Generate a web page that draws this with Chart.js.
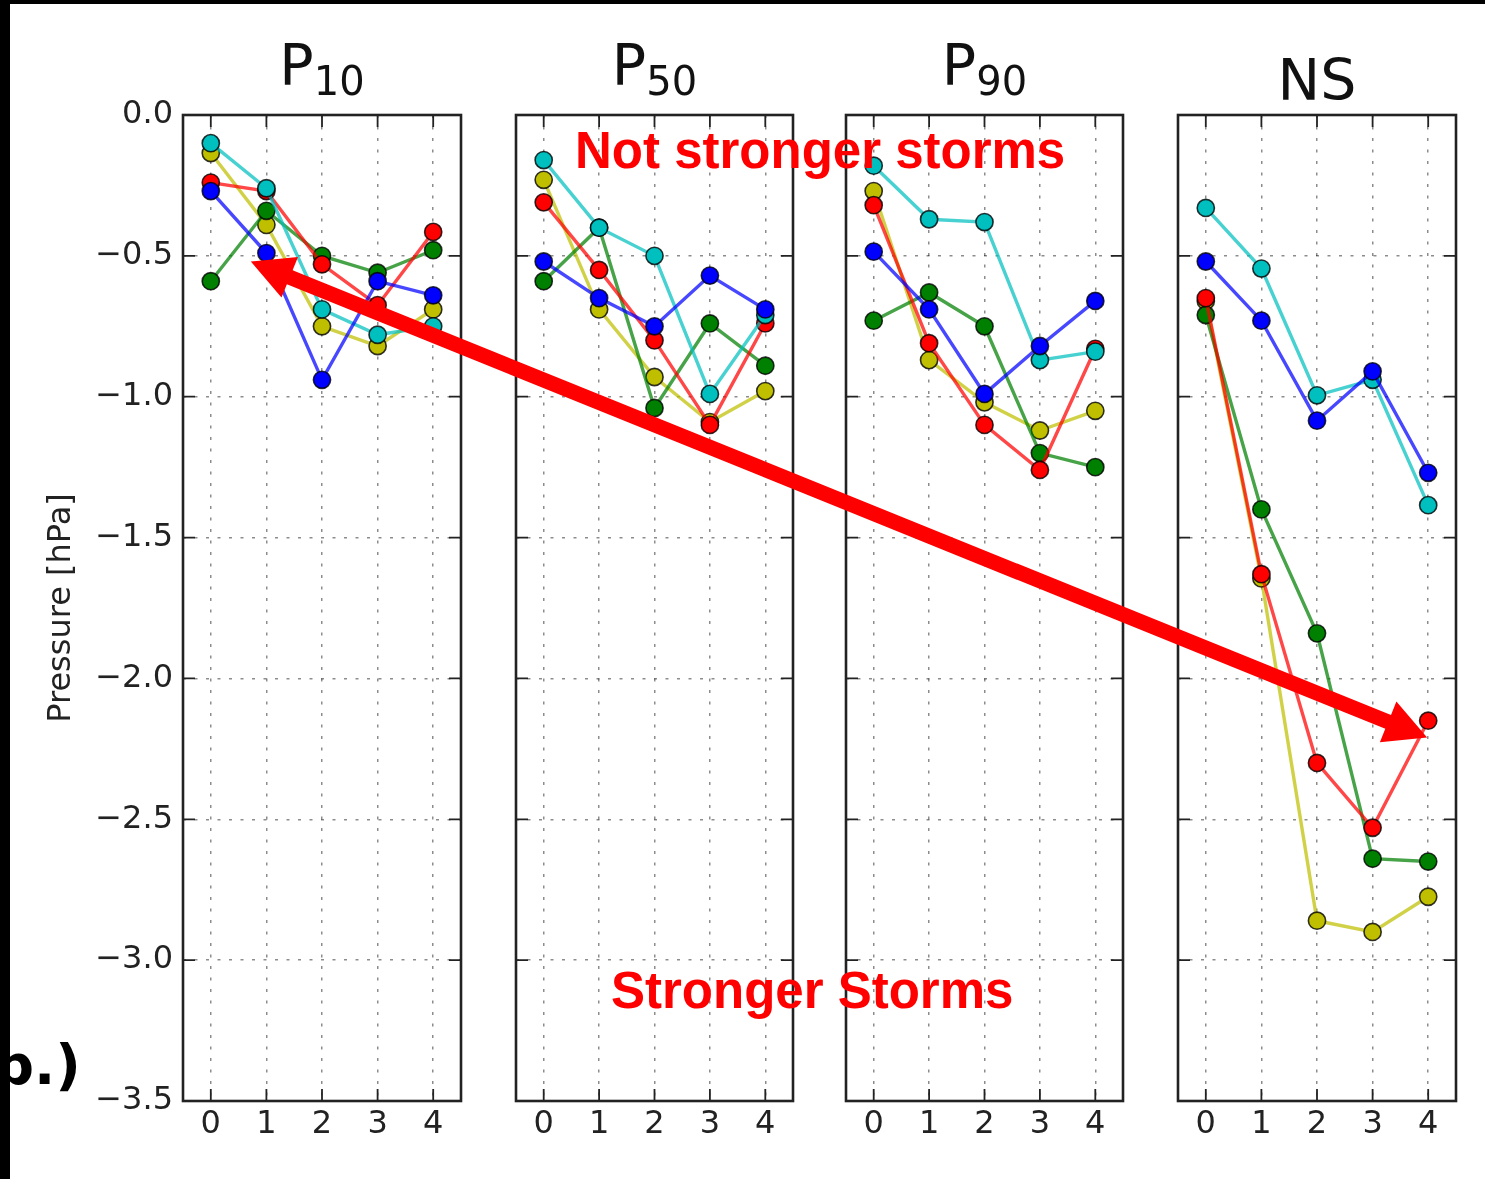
<!DOCTYPE html>
<html>
<head>
<meta charset="utf-8">
<title>Pressure panels</title>
<script src="https://cdn.jsdelivr.net/npm/chart.js@4.4.0/dist/chart.umd.min.js"></script>
<style>
  body { margin: 0; background: #fff; }
  #wrap { position: relative; width: 1485px; height: 1179px; overflow: hidden; background: #fff; }
  #wrap canvas { position: absolute; top: 0; }
  .ttl { position: absolute; width: 240px; text-align: center; font-family: "DejaVu Sans"; font-size: 57px;
         line-height: 1; color: #111; white-space: nowrap; }
  .ttl sub { font-size: 40px; vertical-align: -10px; }
  .note { position: absolute; font-family: "Liberation Sans", Arial, sans-serif; font-weight: bold;
          font-size: 51px; line-height: 1; color: #ff0000; white-space: nowrap; }
  .tag { position: absolute; left: -6px; top: 1037px; font-family: "DejaVu Sans"; font-weight: bold;
         font-size: 56px; line-height: 1; color: #000; }
  .blk { position: absolute; background: #000; }
  #arrow { position: absolute; left: 0; top: 0; }
</style>
</head>
<body>
<div id="wrap">
  <div class="note" style="left:575px; top:125px;">Not stronger storms</div>
  <div class="note" style="left:611px; top:965px;">Stronger Storms</div>
  <div class="tag">b.)</div>
  <svg id="arrow" width="1485" height="1179"></svg>
  <div class="blk" style="left:0; top:0; width:1485px; height:4px;"></div>
  <div class="blk" style="left:0; top:0; width:10px; height:1179px;"></div>
</div>
<script>
// tick labels
const xTicks = [0, 1, 2, 3, 4];
const yTickVals = [0, -0.5, -1, -1.5, -2, -2.5, -3, -3.5];
const yTickLabels = ['0.0', '\u22120.5', '\u22121.0', '\u22121.5', '\u22122.0', '\u22122.5', '\u22123.0', '\u22123.5'];
const panelTitles = [['P', '10'], ['P', '50'], ['P', '90'], ['NS', '']];
const yTitle = 'Pressure [hPa]';

// P10
const p10Blue   = [-0.27, -0.49, -0.94, -0.59, -0.64];
const p10Cyan   = [-0.10, -0.26, -0.69, -0.78, -0.75];
const p10Red    = [-0.24, -0.27, -0.53, -0.675, -0.415];
const p10Green  = [-0.59, -0.34, -0.50, -0.56, -0.48];
const p10Yellow = [-0.135, -0.39, -0.75, -0.82, -0.69];

// P50
const p50Blue   = [-0.52, -0.65, -0.75, -0.57, -0.69];
const p50Cyan   = [-0.16, -0.40, -0.50, -0.99, -0.71];
const p50Red    = [-0.31, -0.55, -0.80, -1.10, -0.74];
const p50Green  = [-0.59, -0.40, -1.04, -0.74, -0.89];
const p50Yellow = [-0.23, -0.69, -0.93, -1.09, -0.98];

// P90
const p90Blue   = [-0.485, -0.69, -0.99, -0.82, -0.66];
const p90Cyan   = [-0.18, -0.37, -0.38, -0.87, -0.84];
const p90Red    = [-0.32, -0.81, -1.10, -1.26, -0.83];
const p90Green  = [-0.73, -0.63, -0.75, -1.20, -1.25];
const p90Yellow = [-0.27, -0.87, -1.02, -1.12, -1.05];

// NS
const nsBlue   = [-0.52, -0.73, -1.085, -0.91, -1.27];
const nsCyan   = [-0.33, -0.545, -0.995, -0.94, -1.385];
const nsRed    = [-0.65, -1.63, -2.30, -2.53, -2.15];
const nsGreen  = [-0.71, -1.40, -1.84, -2.64, -2.65];
const nsYellow = [-0.66, -1.645, -2.86, -2.90, -2.775];

// first one is drawn on top
const markColors = ['#0000ff', '#00bfbf', '#ff0000', '#008000', '#bfbf00'];
const lineColors = ['rgba(0,0,255,0.72)', 'rgba(0,191,191,0.72)', 'rgba(255,0,0,0.72)', 'rgba(0,128,0,0.72)', 'rgba(191,191,0,0.72)'];

const panels = [
  { left: 183,  right: 461,  yLabels: true,  series: [p10Blue, p10Cyan, p10Red, p10Green, p10Yellow] },
  { left: 516,  right: 793,  yLabels: false, series: [p50Blue, p50Cyan, p50Red, p50Green, p50Yellow] },
  { left: 846,  right: 1123, yLabels: false, series: [p90Blue, p90Cyan, p90Red, p90Green, p90Yellow] },
  { left: 1178, right: 1456, yLabels: false, series: [nsBlue, nsCyan, nsRed, nsGreen, nsYellow] }
];

// arrow ends in data units of the first and last panel
const arrowFrom = { panel: 0, x: 0.72, y: -0.52 };
const arrowTo   = { panel: 3, x: 3.98, y: -2.21 };

Chart.defaults.font.family = "'DejaVu Sans'";
Chart.defaults.color = '#222';

const gridColor = 'rgba(0,0,0,0.45)';

// box round the axes with ticks pointing inward, like matplotlib
const framePlugin = {
  id: 'frame',
  afterDraw(chart) {
    const { ctx, chartArea: a, scales: { x, y } } = chart;
    ctx.save();
    ctx.strokeStyle = '#222';
    ctx.lineWidth = 1.8;
    ctx.beginPath();
    xTicks.forEach(v => {
      const px = x.getPixelForValue(v);
      ctx.moveTo(px, a.bottom); ctx.lineTo(px, a.bottom - 12);
      ctx.moveTo(px, a.top); ctx.lineTo(px, a.top + 12);
    });
    yTickVals.forEach(v => {
      const py = y.getPixelForValue(v);
      ctx.moveTo(a.left, py); ctx.lineTo(a.left + 12, py);
      ctx.moveTo(a.right, py); ctx.lineTo(a.right - 12, py);
    });
    ctx.stroke();
    ctx.lineWidth = 2.6;
    ctx.strokeRect(a.left, a.top, a.right - a.left, a.bottom - a.top);
    ctx.restore();
  }
};

const wrap = document.getElementById('wrap');
const charts = [];
const offsets = [];

panels.forEach((p, i) => {
  const yW = p.yLabels ? 183 : 0;
  const cLeft = p.yLabels ? 0 : p.left - 15;
  const padL = p.left - yW - cLeft;
  const cWidth = p.right + 15 - cLeft;

  const canvas = document.createElement('canvas');
  canvas.width = cWidth;
  canvas.height = 1179;
  canvas.style.left = cLeft + 'px';
  wrap.insertBefore(canvas, wrap.firstChild);
  offsets.push(cLeft);

  const datasets = p.series.map((vals, j) => ({
    data: xTicks.map((x, n) => ({ x: x, y: vals[n] })),
    borderColor: lineColors[j],
    borderWidth: 3.4,
    pointRadius: 8.6,
    pointBackgroundColor: markColors[j],
    pointBorderColor: 'rgba(0,0,0,0.8)',
    pointBorderWidth: 1.6,
    tension: 0,
    fill: false
  }));

  charts.push(new Chart(canvas, {
    type: 'line',
    data: { datasets: datasets },
    options: {
      responsive: false,
      animation: false,
      devicePixelRatio: 1,
      events: [],
      layout: { padding: { left: padL, right: 15, top: 115, bottom: 1179 - 1101 - 50 } },
      plugins: { legend: { display: false }, tooltip: { enabled: false } },
      scales: {
        x: {
          type: 'linear', min: -0.5, max: 4.5,
          afterBuildTicks: s => { s.ticks = xTicks.map(v => ({ value: v })); },
          afterFit: s => { s.height = 50; },
          ticks: { font: { size: 32 }, color: '#222', padding: 4, callback: v => String(v) },
          grid: { color: gridColor, lineWidth: 1.5, drawTicks: false },
          border: { display: false, dash: [3, 8.5] }
        },
        y: {
          type: 'linear', min: -3.5, max: 0,
          afterBuildTicks: s => { s.ticks = yTickVals.map(v => ({ value: v })); },
          afterFit: s => { s.width = yW; },
          ticks: { display: p.yLabels, font: { size: 32 }, color: '#222', padding: 10,
                   callback: v => yTickLabels[yTickVals.indexOf(v)] },
          title: { display: p.yLabels, text: yTitle, font: { size: 32 }, color: '#222', padding: { top: 42.5, bottom: 0 } },
          grid: { color: gridColor, lineWidth: 1.5, drawTicks: false },
          border: { display: false, dash: [3, 8.5] }
        }
      }
    },
    plugins: [framePlugin]
  }));

  // panel title
  const t = document.createElement('div');
  t.className = 'ttl';
  const cx = (p.left + p.right) / 2;
  t.style.left = (cx - 120) + 'px';
  t.style.top = (panelTitles[i][1] ? 36.8 : 51.8) + 'px';
  t.innerHTML = panelTitles[i][0] + (panelTitles[i][1] ? '<sub>' + panelTitles[i][1] + '</sub>' : '');
  wrap.appendChild(t);
});

// double headed red arrow
function toPage(end) {
  const c = charts[end.panel];
  return [offsets[end.panel] + c.scales.x.getPixelForValue(end.x), c.scales.y.getPixelForValue(end.y)];
}
const A = toPage(arrowFrom), B = toPage(arrowTo);
const dx = B[0] - A[0], dy = B[1] - A[1];
const len = Math.hypot(dx, dy);
const ux = dx / len, uy = dy / len, nx = -uy, ny = ux;
const headLen = 42, headHalf = 22, shaftHalf = 7.5;
function pt(base, along, side) {
  return (base[0] + ux * along + nx * side).toFixed(1) + ',' + (base[1] + uy * along + ny * side).toFixed(1);
}
const pts = [
  pt(A, 0, 0), pt(A, headLen, -headHalf), pt(A, headLen, -shaftHalf),
  pt(B, -headLen, -shaftHalf), pt(B, -headLen, -headHalf), pt(B, 0, 0),
  pt(B, -headLen, headHalf), pt(B, -headLen, shaftHalf),
  pt(A, headLen, shaftHalf), pt(A, headLen, headHalf)
];
const svg = document.getElementById('arrow');
const poly = document.createElementNS('http://www.w3.org/2000/svg', 'polygon');
poly.setAttribute('points', pts.join(' '));
poly.setAttribute('fill', '#ff0000');
svg.appendChild(poly);
</script>
</body>
</html>
